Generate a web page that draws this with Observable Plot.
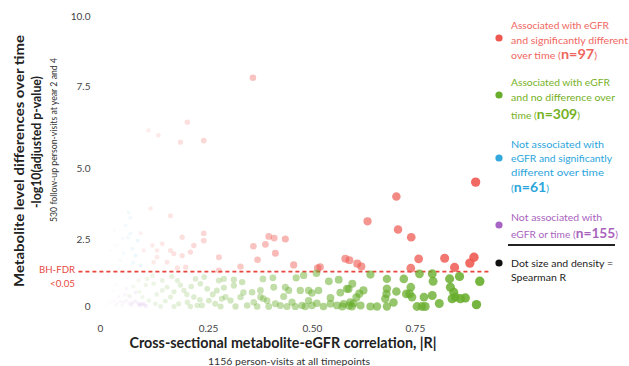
<!DOCTYPE html>
<html><head><meta charset="utf-8">
<script src="https://cdn.jsdelivr.net/npm/d3@7"></script>
<script src="https://cdn.jsdelivr.net/npm/@observablehq/plot@0.6"></script>
<style>
body{margin:0;background:#fff}
#chart{position:relative;width:629px;height:366px;overflow:hidden}
</style>
</head><body><div id="chart"></div>
<script>
// Groups and colours
const groupNames = ["Associated with eGFR, different over time", "Associated with eGFR, no difference", "Not associated with eGFR, different over time", "Not associated"];
const groupColors = ["#ee5850", "#68ad2c", "#33a8dd", "#a864c4"];
const groupCounts = [97, 309, 61, 155];

// x: cross-sectional |R| ; y: -log10(adjusted p)
const redR = [0.896,0.704,0.634,0.708,0.740,0.758,0.821,0.892,0.882,0.845,0.739,0.580,0.590,0.609,0.619,0.513,0.519,0.455,0.395,0.408,0.435,0.387,0.358,0.411,0.368,0.327,0.357,0.239,0.201,0.185,0.134,0.111,0.093,0.116,0.162,0.120,0.100,0.131,0.143,0.162,0.170,0.189,0.189,0.208,0.239,0.239,0.275,0.131,0.123,0.154,0.178,0.197,0.275,0.216];
const redP = [4.52,4.01,3.14,2.85,2.58,1.78,1.80,1.84,1.62,1.46,1.43,1.78,1.73,1.60,1.49,1.44,1.47,1.55,2.61,2.55,2.52,2.32,2.25,1.99,1.74,1.49,7.81,5.85,6.41,5.80,6.01,6.16,2.72,3.59,3.34,2.28,2.09,2.09,2.34,2.09,1.97,2.58,1.90,2.03,2.72,2.46,1.84,1.84,1.65,1.65,1.44,1.47,1.34,2.28];

const greenR = [0.641,0.681,0.722,0.760,0.791,0.793,0.833,0.857,0.906,0.597,0.624,0.614,0.607,0.600,0.617,0.681,0.680,0.677,0.681,0.657,0.641,0.704,0.739,0.736,0.742,0.754,0.766,0.774,0.771,0.791,0.835,0.843,0.847,0.859,0.871,0.839,0.381,0.405,0.461,0.479,0.510,0.540,0.564,0.584,0.287,0.311,0.331,0.287,0.311,0.355,0.407,0.435,0.443,0.471,0.491,0.291,0.303,0.327,0.343,0.359,0.375,0.391,0.395,0.411,0.423,0.431,0.451,0.459,0.475,0.491,0.499,0.511,0.527,0.544,0.560,0.576,0.592,0.596,0.108,0.123,0.143,0.154,0.178,0.193,0.220,0.231,0.247,0.275,0.097,0.112,0.127,0.143,0.162,0.181,0.201,0.216,0.235,0.251,0.266,0.282,0.139,0.170,0.208,0.224,0.076,0.088,0.065,0.544,0.499,0.382,0.728,0.588,0.090,0.105,0.130,0.150,0.170,0.185,0.200,0.210,0.230,0.260,0.120,0.165,0.240,0.270,0.279,0.315,0.367,0.439,0.483,0.573,0.589,0.334,0.375,0.515,0.568,0.697,0.808,0.898];
const greenP = [1.19,1.03,1.03,1.22,1.22,0.94,1.03,1.12,0.94,0.85,0.60,0.48,0.34,0.11,0.04,0.66,0.47,0.29,0,0,0,0.56,0.72,0.47,0.35,0,0,0,0.35,0.41,0.72,0.53,0.35,0.29,0.32,0.29,1.03,1.07,1.07,1.16,1.24,0.94,1.00,0.66,1.03,1.00,0.91,0.70,0.78,0.53,0.72,0.72,0.60,0.60,0.60,0.35,0.22,0.35,0.04,0.16,0.35,0.22,0,0.10,0.04,0.37,0.16,0,0.04,0.22,0.04,0.12,0,0.10,0.04,0.10,0.16,0,1.03,0.85,0.97,0.72,0.97,0.60,1.03,0.85,0.66,0.97,0.35,0.22,0.10,0.60,0.35,0.10,0.16,0.35,0.04,0.22,0.10,0.29,0,0,0,0.04,0.75,0.97,0.41,0.32,0.50,0.29,0.47,0.65,0.55,0.80,0.45,0.20,0.55,0.80,0.45,0.75,0.25,0.45,1.15,1.12,1.10,0.60,0,0,0,0,0,0,0.04,0.52,0.60,0.60,0.52,0.15,0.11,0.07];

const blueR = [0.065,0.069,0.051,0.063,0.069,0.086,0.074,0.053,0.046,0.042,0.023,0.032,0.058,0.081,0.012,0.076,0.093,0.037];
const blueP = [3.45,3.27,2.54,2.57,2.71,2.46,2.16,1.98,1.72,1.42,2.09,2.82,3.00,1.90,1.64,1.64,1.53,2.28];

const purpleR = [0.005,0.012,0.019,0.025,0.032,0.039,0.046,0.053,0.060,0.067,0.074,0.081,0.088,0.095,0.021,0.042,0.056,0.069,0.028,0.060,0.081,0.037,0.015,0.035,0.050,0.072,0.090,0.100,0.105];
const purpleP = [0.04,0.07,0.11,0.15,0.19,0.11,0.19,0.15,0.22,0.11,0.15,0.19,0.11,0.07,0.26,0.37,0.45,0.37,0.60,0.67,0.52,0.82,0.02,0.05,0.03,0.06,0.04,0.10,0.02];

// Axis ticks
const xTicks = [0, 0.25, 0.5, 0.75];
const yTicks = [0, 2.5, 5, 7.5, 10];
const fdrThreshold = -Math.log10(0.05);

// The source figure's axes are slightly unevenly spaced; warp to match
const xWarp = d3.scaleLinear().domain([0, 0.25, 0.5, 0.75, 0.9]).range([0, 0.258, 0.506, 0.752, 0.9]);
const yWarp = d3.scaleLinear().domain([0, 2.5, 5, 7.5, 10]).range([0, 2.31, 4.76, 7.59, 10]);
const nearest = (list, v) => list.reduce((a, b) => Math.abs(b - v) < Math.abs(a - v) ? b : a);

// Build table
const seriesR = [redR, greenR, blueR, purpleR];
const seriesP = [redP, greenP, blueP, purpleP];
const rows = [];
seriesR.forEach((rs, g) => rs.forEach((r, i) => rows.push({R: r, logP: seriesP[g][i], group: groupNames[g]})));
rows.sort((a, b) => a.R - b.R);

const chart = Plot.plot({
  width: 629,
  height: 366,
  marginLeft: 91,
  marginBottom: 50,
  marginTop: 10,
  marginRight: 140,
  style: {fontFamily: "Lato, sans-serif", fontSize: "10px", color: "#444", background: "#fff"},
  x: {type: "linear", domain: [0, 0.9], range: [100, 476.8], transform: xWarp, ticks: xTicks.map(xWarp),
      tickFormat: d => { const v = nearest(xTicks, xWarp.invert(d)); return v === 0 ? "0" : d3.format(".2f")(v); },
      tickSize: 0, tickPadding: 8, label: null},
  y: {type: "linear", domain: [0, 10], range: [306, 16], transform: yWarp, ticks: yTicks.map(yWarp),
      tickFormat: d => { const v = nearest(yTicks, yWarp.invert(d)); return v === 0 ? "0" : v.toFixed(1); },
      tickSize: 0, tickPadding: 1, label: null},
  r: {type: "sqrt", domain: [0, 0.9], range: [0.9, 4.7]},
  opacity: {type: "linear", domain: [0, 0.5], range: [0.3, 1], clamp: true},
  color: {domain: groupNames, range: groupColors},
  marks: [
    Plot.ruleY([fdrThreshold], {x1: -0.05, x2: 0.93, stroke: "#e8453c", strokeWidth: 1.6, strokeDasharray: "4,3"}),
    Plot.dot(rows, {x: "R", y: "logP", r: "R", fill: "group", fillOpacity: "R", stroke: "none"})
  ]
});
document.getElementById("chart").appendChild(chart);

const svg = d3.select(chart);
const ff = "Lato, sans-serif";
function label(x, y, txt, opts) {
  const t = svg.append("text")
    .attr("transform", `translate(${x},${y})` + (opts.rotate ? " rotate(-90)" : ""))
    .attr("text-anchor", opts.anchor || "middle")
    .attr("dy", "0.35em")
    .attr("font-family", ff)
    .attr("font-size", opts.size)
    .attr("font-weight", opts.weight || "normal")
    .attr("fill", opts.fill || "#222")
    .text(txt);
  if (opts.len) t.attr("textLength", opts.len).attr("lengthAdjust", "spacingAndGlyphs");
  return t;
}
// Axis titles
label(19, 161, "Metabolite level differences over time", {rotate: true, size: 14, weight: "bold", len: 252});
label(36, 142, "-log10(adjusted p-value)", {rotate: true, size: 14, weight: "bold", len: 132});
label(53.5, 140, "530 follow-up person-visits at year 2 and 4", {rotate: true, size: 9, fill: "#333", len: 164});
label(283, 343, "Cross-sectional metabolite-eGFR correlation, |R|", {size: 15, weight: "bold", len: 307});
label(289, 362, "1156 person-visits at all timepoints", {size: 9, fill: "#333", len: 162});
label(75, 269, "BH-FDR", {anchor: "end", size: 10, fill: "#e64a3f", len: 36});
label(75, 283, "<0.05", {anchor: "end", size: 10, fill: "#e64a3f", len: 25});

// Legend
const legendItems = [
  {color: groupColors[0], text: "#f0665e", dotY: 38, lines: [
    {y: 25, w: 98, segs: [["Associated with eGFR"]]},
    {y: 40, w: 117, segs: [["and significantly different"]]},
    {y: 55, w: 86, segs: [["over time ("], ["n=" + groupCounts[0], true], [")"]]}]},
  {color: groupColors[1], text: "#76b124", dotY: 95, lines: [
    {y: 82, w: 99, segs: [["Associated with eGFR"]]},
    {y: 97, w: 104, segs: [["and no difference over"]]},
    {y: 115, w: 69, segs: [["time ("], ["n=" + groupCounts[1], true], [")"]]}]},
  {color: groupColors[2], text: "#2ba5dc", dotY: 158, lines: [
    {y: 144, w: 93, segs: [["Not associated with"]]},
    {y: 158, w: 101, segs: [["eGFR and significantly"]]},
    {y: 172, w: 93, segs: [["different over time"]]},
    {y: 188, w: 38, segs: [["("], ["n=" + groupCounts[2], true], [")"]]}]},
  {color: groupColors[3], text: "#a963bd", dotY: 225, lines: [
    {y: 217, w: 91, segs: [["Not associated with"]]},
    {y: 234, w: 107, segs: [["eGFR or time ("], ["n=" + groupCounts[3], true], [")"]]}]},
  {color: "#111", text: "#222", dotY: 263, lines: [
    {y: 263, w: 102, segs: [["Dot size and density ="]]},
    {y: 277, w: 55, segs: [["Spearman R"]]}]}
];
legendItems.forEach(item => {
  svg.append("circle").attr("cx", 499).attr("cy", item.dotY).attr("r", 3.6).attr("fill", item.color);
  item.lines.forEach(line => {
    const t = svg.append("text").attr("x", 511).attr("y", line.y).attr("dy", "0.35em")
      .attr("text-anchor", "start")
      .attr("font-family", ff).attr("font-size", 10).attr("fill", item.text)
      .attr("textLength", line.w).attr("lengthAdjust", "spacingAndGlyphs");
    line.segs.forEach(([s, bold]) => {
      const ts = t.append("tspan").text(s);
      if (bold) ts.attr("font-weight", "bold").attr("font-size", 13.5);
    });
  });
});
svg.append("line").attr("x1", 508).attr("x2", 615).attr("y1", 245).attr("y2", 245)
  .attr("stroke", "#222").attr("stroke-width", 1.8);
</script>
</body></html>
